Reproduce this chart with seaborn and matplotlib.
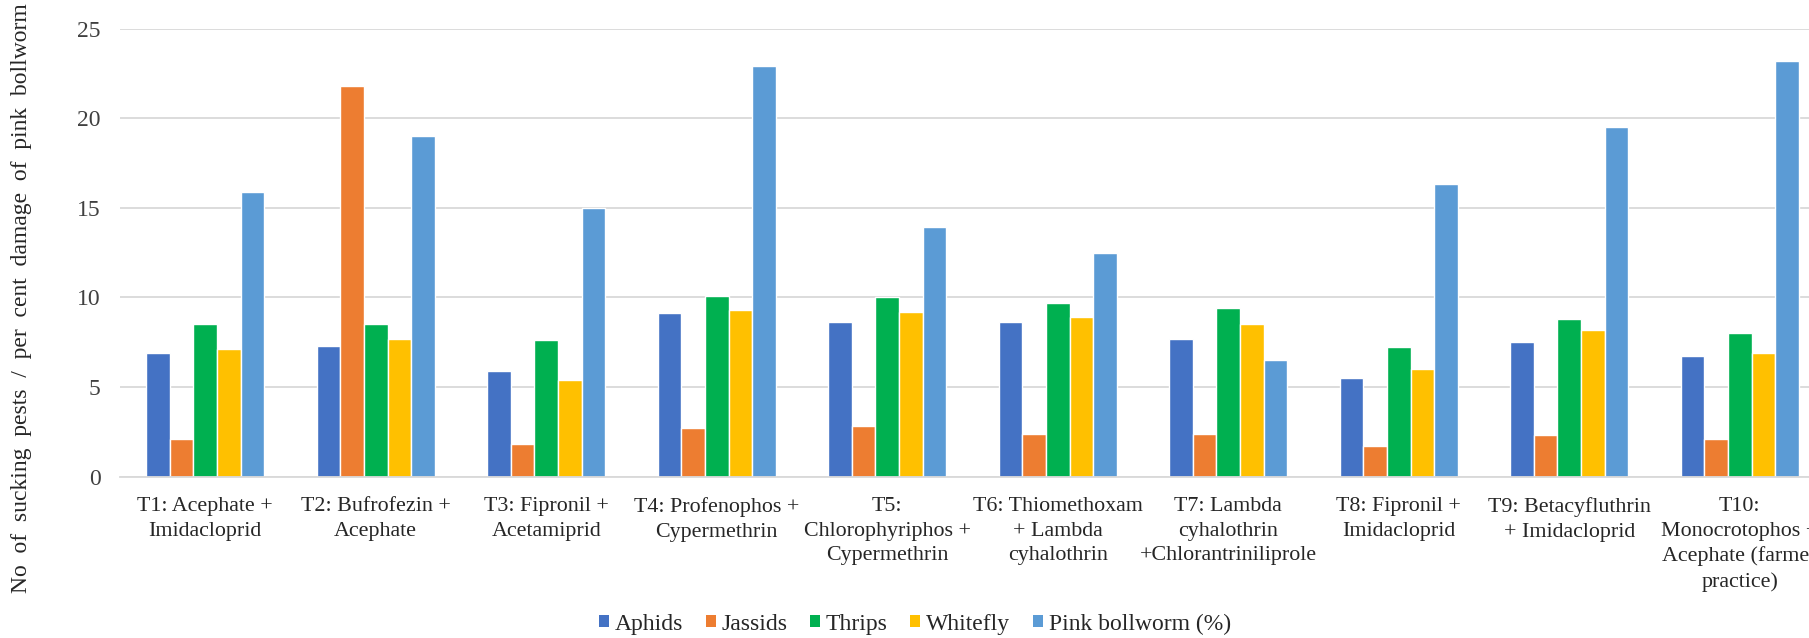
import matplotlib
matplotlib.use("Agg")
import matplotlib.pyplot as plt
from matplotlib import font_manager
import seaborn as sns
import pandas as pd

# Treatments (x categories) with their wrapped labels
treatments = [
    "T1: Acephate +\nImidacloprid",
    "T2: Bufrofezin +\nAcephate",
    "T3: Fipronil +\nAcetamiprid",
    "T4: Profenophos +\nCypermethrin",
    "T5:\nChlorophyriphos +\nCypermethrin",
    "T6: Thiomethoxam\n+ Lambda\ncyhalothrin",
    "T7: Lambda\ncyhalothrin\n+Chlorantriniliprole",
    "T8: Fipronil +\nImidacloprid",
    "T9: Betacyfluthrin\n+ Imidacloprid",
    "T10:\nMonocrotophos +\nAcephate (farmer\npractice)",
]

series_names = ["Aphids", "Jassids", "Thrips", "Whitefly", "Pink bollworm (%)"]

aphids = [6.9, 7.3, 5.9, 9.1, 8.6, 8.6, 7.7, 5.5, 7.5, 6.7]
jassids = [2.1, 21.8, 1.8, 2.7, 2.8, 2.4, 2.4, 1.7, 2.3, 2.1]
thrips = [8.5, 8.5, 7.6, 10.1, 10.0, 9.7, 9.4, 7.2, 8.8, 8.0]
whitefly = [7.1, 7.7, 5.4, 9.3, 9.2, 8.9, 8.5, 6.0, 8.2, 6.9]
pink_bollworm = [15.9, 19.0, 15.0, 22.9, 13.9, 12.5, 6.5, 16.3, 19.5, 23.2]

colors = ["#4472C4", "#ED7D31", "#00B050", "#FFC000", "#5B9BD5"]
y_ticks = [0, 5, 10, 15, 20, 25]

rows = []
for name, vals in zip(series_names,
                      [aphids, jassids, thrips, whitefly, pink_bollworm]):
    for t, v in zip(treatments, vals):
        rows.append({"Treatment": t, "Pest": name, "Value": v})
df = pd.DataFrame(rows)

sns.set_theme(style="white")

# Pick a Times-like serif face that is actually installed
installed = {f.name for f in font_manager.fontManager.ttflist}
serif_face = "DejaVu Serif"
for cand in ["Liberation Serif", "Times New Roman", "Nimbus Roman",
             "Tinos", "Noto Serif"]:
    if cand in installed:
        serif_face = cand
        break
plt.rcParams["font.family"] = "serif"
plt.rcParams["font.serif"] = [serif_face, "DejaVu Serif"]

W, H = 1809, 638
fig = plt.figure(figsize=(W / 100, H / 100), dpi=100)
ax = fig.add_axes([120 / W, 0.2531, 1705 / W, 0.7022])

sns.barplot(data=df, x="Treatment", y="Value", hue="Pest",
            order=treatments, hue_order=series_names,
            palette=colors, saturation=1, width=0.694,
            errorbar=None, ax=ax, legend=False)

ax.set_xlim(-0.5, 9.5)
ax.set_ylim(0, 25)
ax.set_yticks(y_ticks)
ax.set_yticklabels([str(v) for v in y_ticks], fontsize=17, color="#404040",
                   family=serif_face)
ax.set_xlabel("")
ax.set_ylabel("")
ax.grid(axis="y", color="#d9d9d9", linewidth=1.3)
ax.set_axisbelow(True)
for side in ["top", "right", "left"]:
    ax.spines[side].set_visible(False)
ax.spines["bottom"].set_color("#d9d9d9")
ax.spines["bottom"].set_linewidth(1.3)
ax.tick_params(axis="y", length=0, pad=14)
ax.tick_params(axis="x", length=0, pad=15)
for lbl in ax.get_xticklabels():
    lbl.set_family(serif_face)
    lbl.set_fontsize(15.8)
    lbl.set_color("#262626")
    lbl.set_linespacing(1.38)
    lbl.set_multialignment("center")

fig.text(22 / W, 0.533,
         "No  of  sucking  pests  /  per  cent  damage  of  pink  bollworm",
         rotation=90, ha="center", va="center", fontsize=17, color="#262626",
         family=serif_face)

handles = [plt.Rectangle((0, 0), 1, 1, facecolor=c, edgecolor="none")
           for c in colors]
fig.legend(handles, series_names, loc="center",
           bbox_to_anchor=(915 / W, 1 - 624 / H), ncol=5, frameon=False,
           handlelength=0.42, handleheight=0.42,
           handletextpad=0.25, columnspacing=0.95, labelcolor="#262626",
           prop={"family": serif_face, "size": 17})

fig.savefig("out.png", dpi=100)
